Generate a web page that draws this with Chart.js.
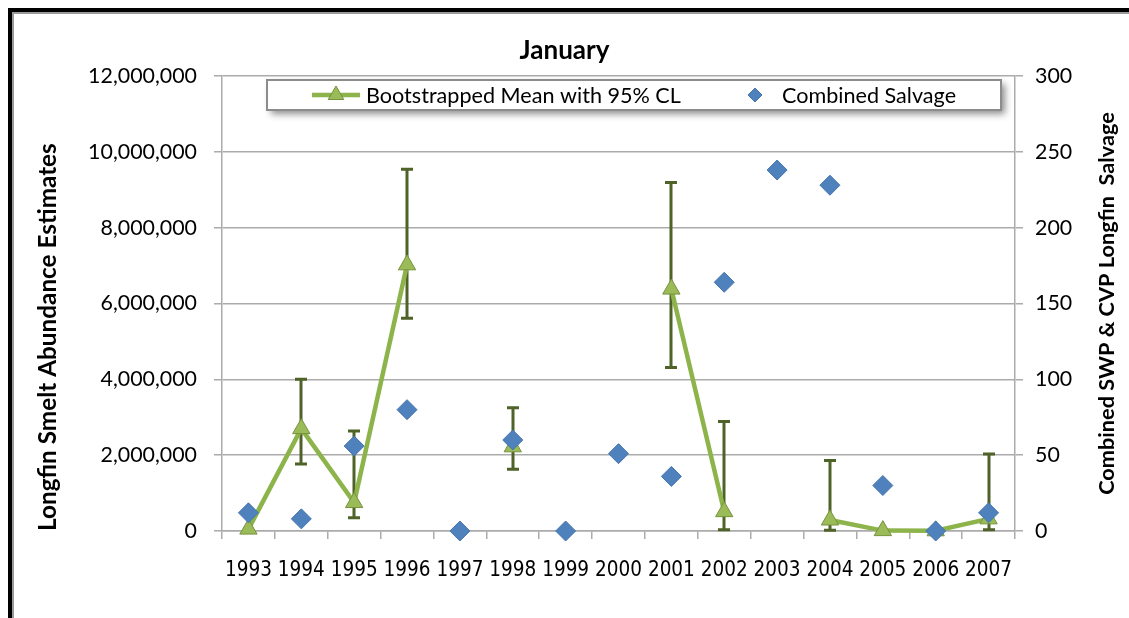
<!DOCTYPE html>
<html><head><meta charset="utf-8">
<script src="https://cdn.jsdelivr.net/npm/chart.js@4.4.1/dist/chart.umd.min.js"></script>
<style>html,body{margin:0;padding:0;background:#fff;}canvas{display:block;}</style>
</head><body>
<canvas id="c" width="1129" height="618"></canvas>
<script>
// ---- data ----
const years = ['1993','1994','1995','1996','1997','1998','1999','2000','2001','2002','2003','2004','2005','2006','2007'];
const meanAbundance = [50000, 2700000, 750000, 7020000, null, 2220000, null, null, 6380000, 510000, null, 290000, 10000, 5000, 320000];
const ciLower = [null, 1770000, 350000, 5610000, null, 1630000, null, null, 4310000, 30000, null, 20000, null, null, 30000];
const ciUpper = [null, 4000000, 2640000, 9540000, null, 3250000, null, null, 9190000, 2890000, null, 1860000, null, null, 2030000];
const salvage = [12, 8, 56, 80, 0, 60, 0, 51, 36, 164, 238, 228, 30, 0, 12];
const leftTickMax = 12000000, leftTickStep = 2000000;
const rightTickMax = 300, rightTickStep = 50;
const chartTitle = 'January';
const leftAxisTitle = 'Longfin Smelt Abundance Estimates';
const rightAxisTitle = 'Combined SWP & CVP Longfin  Salvage';
const meanLabel = 'Bootstrapped Mean with 95% CL';
const salvageLabel = 'Combined Salvage';

// ---- style / layout ----
const W = 1129, H = 618;
const AREA = {left: 222, right: 1015, top: 76, bottom: 531};
const FONT = "Lato, 'Open Sans', sans-serif";
const NARROW = "'Liberation Sans Narrow', 'DejaVu Sans Condensed', sans-serif";
const GREEN_LINE = '#8DB34B', GREEN_FILL = '#9BBB59', GREEN_EDGE = '#76933C', ERR = '#4F6228';
const BLUE = '#4F81BD', BLUE_EDGE = '#4675AE';
const GRID = '#ABABAB';

function fit(text, weight, family, target) {
  const c = document.createElement('canvas').getContext('2d');
  c.font = weight + ' 100px ' + family;
  return 100 * target / c.measureText(text).width;
}
const sTitle = fit(chartTitle, 'bold', FONT, 90);
const sLeftT = fit(leftAxisTitle, 'bold', FONT, 388);
const sRightT = fit(rightAxisTitle, 'bold', FONT, 383);
const sTick = fit('12,000,000', 'normal', FONT, 109);
const sYear = fit('1993', 'normal', NARROW, 47);
const sLeg = fit(meanLabel, 'normal', FONT, 315);

const framePlugin = {
  id: 'frame',
  beforeDraw(chart) {
    const ctx = chart.ctx;
    ctx.save();
    ctx.fillStyle = '#fff'; ctx.fillRect(0, 0, W, H);
    ctx.fillStyle = '#000';
    ctx.fillRect(8, 8, W - 8, 4);
    ctx.fillRect(8, 8, 4, H - 8);
    ctx.fillStyle = '#9a9a9a';
    ctx.fillRect(12, 12, W - 12, 2);
    ctx.fillRect(12, 12, 2, H - 12);
    ctx.restore();
  }
};

const errorBarPlugin = {
  id: 'errorBars',
  beforeDatasetsDraw(chart) {
    const ctx = chart.ctx, x = chart.scales.x, y = chart.scales.y;
    ctx.save();
    ctx.strokeStyle = ERR; ctx.lineWidth = 3; ctx.lineCap = 'butt';
    for (let i = 0; i < years.length; i++) {
      if (ciLower[i] == null || ciUpper[i] == null) continue;
      const px = Math.round(x.getPixelForValue(i));
      const y1 = y.getPixelForValue(ciLower[i]), y2 = y.getPixelForValue(ciUpper[i]);
      ctx.beginPath();
      ctx.moveTo(px, y1); ctx.lineTo(px, y2);
      ctx.moveTo(px - 6, y1); ctx.lineTo(px + 6, y1);
      ctx.moveTo(px - 6, y2); ctx.lineTo(px + 6, y2);
      ctx.stroke();
    }
    ctx.restore();
  }
};

const rightTitlePlugin = {
  id: 'rightTitle',
  afterDraw(chart) {
    const ctx = chart.ctx, a = chart.chartArea;
    ctx.save();
    ctx.translate(1107, (a.top + a.bottom) / 2);
    ctx.rotate(-Math.PI / 2);
    ctx.fillStyle = '#000';
    ctx.font = 'bold ' + sRightT + 'px ' + FONT;
    ctx.textAlign = 'center'; ctx.textBaseline = 'middle';
    ctx.fillText(rightAxisTitle, 0, 0);
    ctx.restore();
  }
};

const legendPlugin = {
  id: 'boxLegend',
  afterDraw(chart) {
    const ctx = chart.ctx;
    const bx = 267, by = 80, bw = 734, bh = 30, cy = by + bh / 2;
    ctx.save();
    ctx.shadowColor = 'rgba(0,0,0,0.45)';
    ctx.shadowBlur = 7; ctx.shadowOffsetX = 4; ctx.shadowOffsetY = 4;
    ctx.fillStyle = '#fff';
    ctx.fillRect(bx, by, bw, bh);
    ctx.shadowColor = 'transparent';
    ctx.strokeStyle = '#8c8c8c'; ctx.lineWidth = 2;
    ctx.strokeRect(bx, by, bw, bh);
    const ds = chart.data.datasets;
    // item 1: line + triangle
    ctx.strokeStyle = GREEN_LINE; ctx.lineWidth = 4.5;
    ctx.beginPath(); ctx.moveTo(312, cy); ctx.lineTo(360, cy); ctx.stroke();
    ctx.fillStyle = GREEN_FILL; ctx.strokeStyle = GREEN_EDGE; ctx.lineWidth = 1;
    ctx.beginPath();
    const r = 9;
    ctx.moveTo(336, cy - r); ctx.lineTo(336 + r * 0.866, cy + r / 2); ctx.lineTo(336 - r * 0.866, cy + r / 2); ctx.closePath();
    ctx.fill(); ctx.stroke();
    ctx.fillStyle = '#000';
    ctx.font = 'normal ' + sLeg + 'px ' + FONT;
    ctx.textBaseline = 'middle'; ctx.textAlign = 'left';
    ctx.fillText(ds[0].label, 366, cy + 1);
    // item 2: diamond
    ctx.fillStyle = BLUE; ctx.strokeStyle = BLUE_EDGE;
    ctx.beginPath();
    const d = 7, dx = 755;
    ctx.moveTo(dx, cy - d); ctx.lineTo(dx + d, cy); ctx.lineTo(dx, cy + d); ctx.lineTo(dx - d, cy); ctx.closePath();
    ctx.fill(); ctx.stroke();
    ctx.fillStyle = '#000';
    ctx.fillText(ds[1].label, 782, cy + 1);
    ctx.restore();
  }
};

new Chart(document.getElementById('c'), {
  type: 'line',
  data: {
    labels: years,
    datasets: [
      {
        label: meanLabel, data: meanAbundance, yAxisID: 'y', order: 2,
        borderColor: GREEN_LINE, borderWidth: 4.5, tension: 0, spanGaps: false, clip: false,
        pointStyle: 'triangle', pointRadius: 10, pointHoverRadius: 10,
        pointBackgroundColor: GREEN_FILL, pointBorderColor: GREEN_EDGE, pointBorderWidth: 1
      },
      {
        label: salvageLabel, data: salvage, yAxisID: 'y2', order: 1,
        showLine: false, clip: false,
        pointStyle: 'rectRot', pointRadius: 10, pointHoverRadius: 10,
        pointBackgroundColor: BLUE, pointBorderColor: BLUE_EDGE, pointBorderWidth: 1
      }
    ]
  },
  options: {
    responsive: false, animation: false, devicePixelRatio: 1,
    layout: {padding: 0},
    plugins: {
      legend: {display: false},
      tooltip: {enabled: false},
      title: {
        display: true, text: chartTitle, color: '#000',
        font: {family: FONT, size: sTitle, weight: 'bold', lineHeight: 1.2},
        padding: {top: 51 - 0.6 * sTitle, bottom: AREA.top - (51 - 0.6 * sTitle) - 1.2 * sTitle}
      }
    },
    scales: {
      x: {
        type: 'category', offset: true,
        grid: {offset: true, drawOnChartArea: false, drawTicks: true, tickLength: 8, color: GRID, lineWidth: 1.5},
        border: {display: true, color: GRID, width: 1.5},
        ticks: {color: '#000', font: {family: NARROW, size: sYear}, maxRotation: 0, autoSkip: false, padding: 19},
        afterFit(s) { s.height = H - AREA.bottom; }
      },
      y: {
        position: 'left', min: 0, max: leftTickMax,
        ticks: {stepSize: leftTickStep, color: '#000', padding: 17,
          font: {family: FONT, size: sTick},
          callback: v => Number(v).toLocaleString('en-US')},
        grid: {color: GRID, lineWidth: 1.5, tickLength: 8, drawTicks: true},
        border: {display: true, color: GRID, width: 1.5},
        title: {display: true, text: leftAxisTitle, align: 'start', color: '#000',
          font: {family: FONT, size: sLeftT, weight: 'bold', lineHeight: 1.2},
          padding: {top: 48 - 0.6 * sLeftT, bottom: 0}},
        afterFit(s) { s.width = AREA.left; }
      },
      y2: {
        position: 'right', min: 0, max: rightTickMax,
        ticks: {stepSize: rightTickStep, color: '#000', padding: 12,
          font: {family: FONT, size: sTick}},
        grid: {drawOnChartArea: false, color: GRID, lineWidth: 1.5, tickLength: 8, drawTicks: true},
        border: {display: true, color: GRID, width: 1.5},
        title: {display: false},
        afterFit(s) { s.width = W - AREA.right; }
      }
    }
  },
  plugins: [framePlugin, errorBarPlugin, rightTitlePlugin, legendPlugin]
});
</script>
</body></html>
